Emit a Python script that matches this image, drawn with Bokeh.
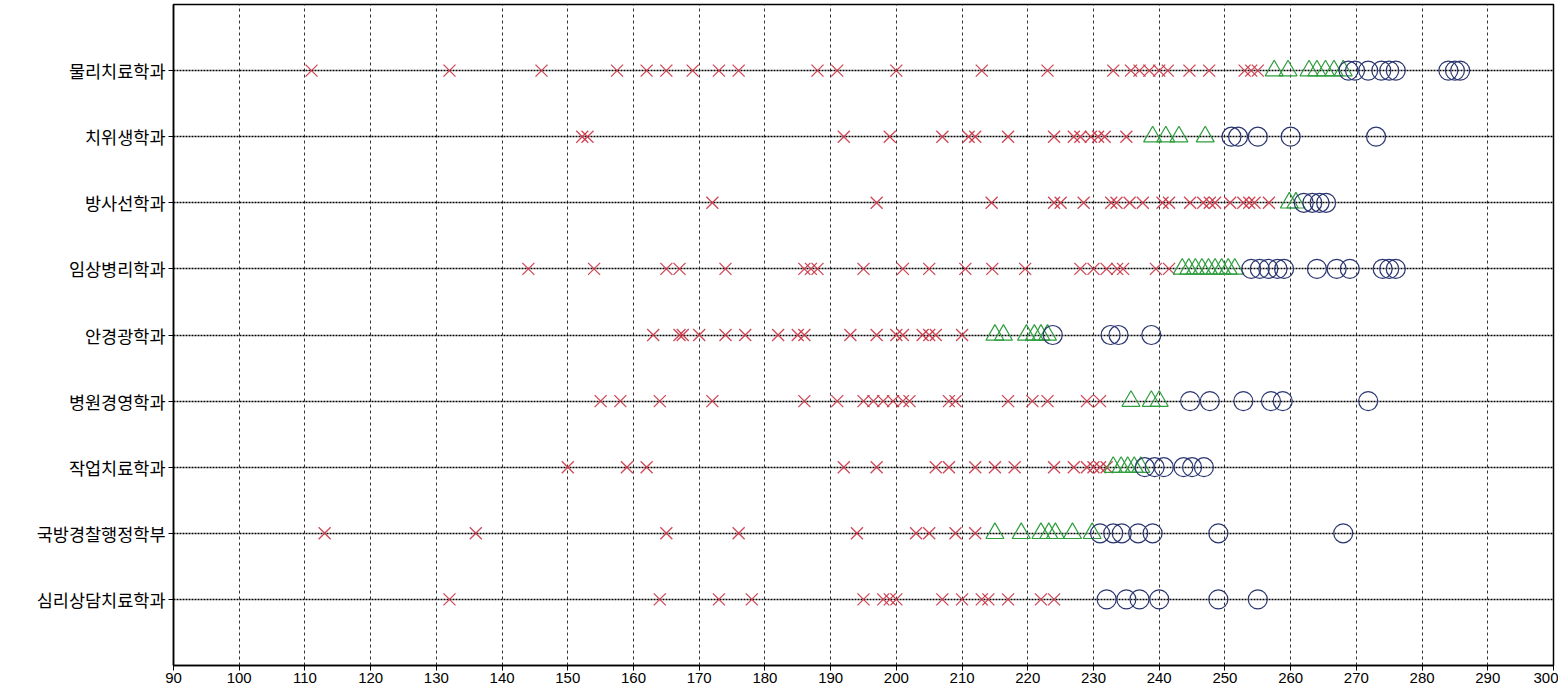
from bokeh.plotting import figure
from bokeh.models import ColumnDataSource, FixedTicker, Range1d
from bokeh.embed import file_html
from bokeh.resources import INLINE

departments = ["물리치료학과", "치위생학과", "방사선학과", "임상병리학과", "안경광학과",
               "병원경영학과", "작업치료학과", "국방경찰행정학부", "심리상담치료학과"]

# red crosses
cross_values = [
    [111, 132, 146, 157.5, 162, 165, 169, 173, 176, 188, 191, 200, 213, 223, 233, 235.7, 237, 238.5, 240, 241.3, 244.6, 247.6, 253, 254, 255],
    [152.2, 153, 192, 199, 207, 211, 212, 217, 224, 227, 228, 229.6, 230.7, 231.7, 235],
    [172, 197, 214.5, 224, 225, 228.5, 232.7, 233.5, 235.5, 237.5, 240.5, 241.5, 244.7, 246.7, 247.7, 248.5, 250.8, 252.8, 253.7, 254.5, 256.7],
    [144, 154, 165, 167, 174, 186, 187, 188, 195, 201, 205, 210.5, 214.6, 219.6, 228, 230, 232, 233.6, 234.5, 239.5, 241.5],
    [163, 167, 167.5, 170, 174, 177, 182, 185, 186, 193, 197, 200, 201, 204, 205, 206, 210],
    [155, 158, 164, 172, 186, 191, 195, 196.5, 198, 199.5, 201, 202, 208, 209, 217, 220.7, 223, 229, 231],
    [150, 159, 162, 192, 197, 206, 208, 212, 215, 218, 224, 227, 229, 230, 231, 232],
    [113, 136, 165, 176, 194, 203, 205, 209, 212],
    [132, 164, 173, 178, 195, 198, 199, 200, 207, 210, 213, 214, 217, 222, 224],
]
# green triangles
triangle_values = [
    [257.5, 259.6, 262.8, 264, 265.3, 266.6, 268],
    [239, 241, 243, 247],
    [259.8, 260.8],
    [243.5, 244.5, 245.5, 246.5, 247.5, 248.5, 249.5, 250.5, 251.5],
    [215, 216.3, 219.8, 221, 222, 223],
    [235.7, 238.8, 240],
    [233, 234.2, 235.2, 236.2, 237.2],
    [215, 219, 222, 223.2, 224.2, 226.8, 229.8],
    [],
]
# blue circles
circle_values = [
    [268.8, 269.8, 271.8, 273.8, 275, 276, 284, 285, 285.8],
    [251, 252, 255, 260, 273],
    [262, 263.3, 264.4, 265.4],
    [254, 255.3, 256.6, 258, 259, 264, 267, 269, 274, 275, 276],
    [223.8, 232.6, 233.8, 238.8],
    [244.7, 247.7, 252.8, 257, 258.8, 271.8],
    [237.8, 239.3, 240.7, 243.7, 245, 246.8],
    [231, 233, 234.3, 236.8, 239, 249, 268],
    [232, 235, 237, 240, 249, 255],
]
x_ticks = list(range(90, 301, 10))

n = len(departments)
row_pos = {d: n - i for i, d in enumerate(departments)}


def make_source(values):
    xs, ys = [], []
    for d, vals in zip(departments, values):
        for v in vals:
            xs.append(v)
            ys.append(row_pos[d])
    return ColumnDataSource(dict(x=xs, y=ys))


p = figure(width=1558, height=690, output_backend="svg", toolbar_location=None,
           x_range=Range1d(90, 300), y_range=Range1d(0, n + 1),
           min_border_left=173, min_border_right=5, min_border_top=4, min_border_bottom=25)
p.background_fill_color = "white"
p.border_fill_color = "white"
p.outline_line_color = "black"
p.outline_line_width = 1.5
p.outline_line_alpha = 1

p.xaxis.ticker = FixedTicker(ticks=x_ticks)
p.yaxis.ticker = FixedTicker(ticks=list(range(1, n + 1)))
p.yaxis.major_label_overrides = {row_pos[d]: d for d in departments}

for ax in (p.xaxis, p.yaxis):
    ax.axis_line_color = "black"
    ax.axis_line_width = 1.5
    ax.major_tick_line_color = "black"
    ax.major_tick_out = 5
    ax.major_tick_in = 0
    ax.minor_tick_line_color = None
    ax.major_label_text_color = "black"
p.xaxis.major_label_text_font = "'Liberation Sans Narrow', 'Liberation Sans', Arial, sans-serif"
p.xaxis.major_label_text_font_size = "15px"
p.xaxis.major_label_standoff = 2
p.yaxis.major_label_text_font = "'Noto Sans CJK KR', sans-serif"
p.yaxis.major_label_text_font_size = "17.5px"
p.yaxis.major_label_standoff = 3

p.xgrid.ticker = FixedTicker(ticks=x_ticks)
p.xgrid.grid_line_color = "#333333"
p.xgrid.grid_line_dash = "3 3"
p.xgrid.grid_line_width = 1
p.ygrid.grid_line_color = "#000000"
p.ygrid.grid_line_dash = "2 1"
p.ygrid.grid_line_width = 1.4

p.scatter("x", "y", source=make_source(cross_values), marker="x", size=17,
          line_color="#cc3344", line_width=1.3, line_alpha=0.9)
p.scatter("x", "y", source=make_source(triangle_values), marker="triangle", size=18,
          line_color="#2e9e3e", fill_color=None, line_width=1.2)
p.scatter("x", "y", source=make_source(circle_values), marker="circle", size=19,
          line_color="#2a3570", fill_color=None, line_width=1.2)

open("out.html", "w").write(file_html(p, INLINE))
